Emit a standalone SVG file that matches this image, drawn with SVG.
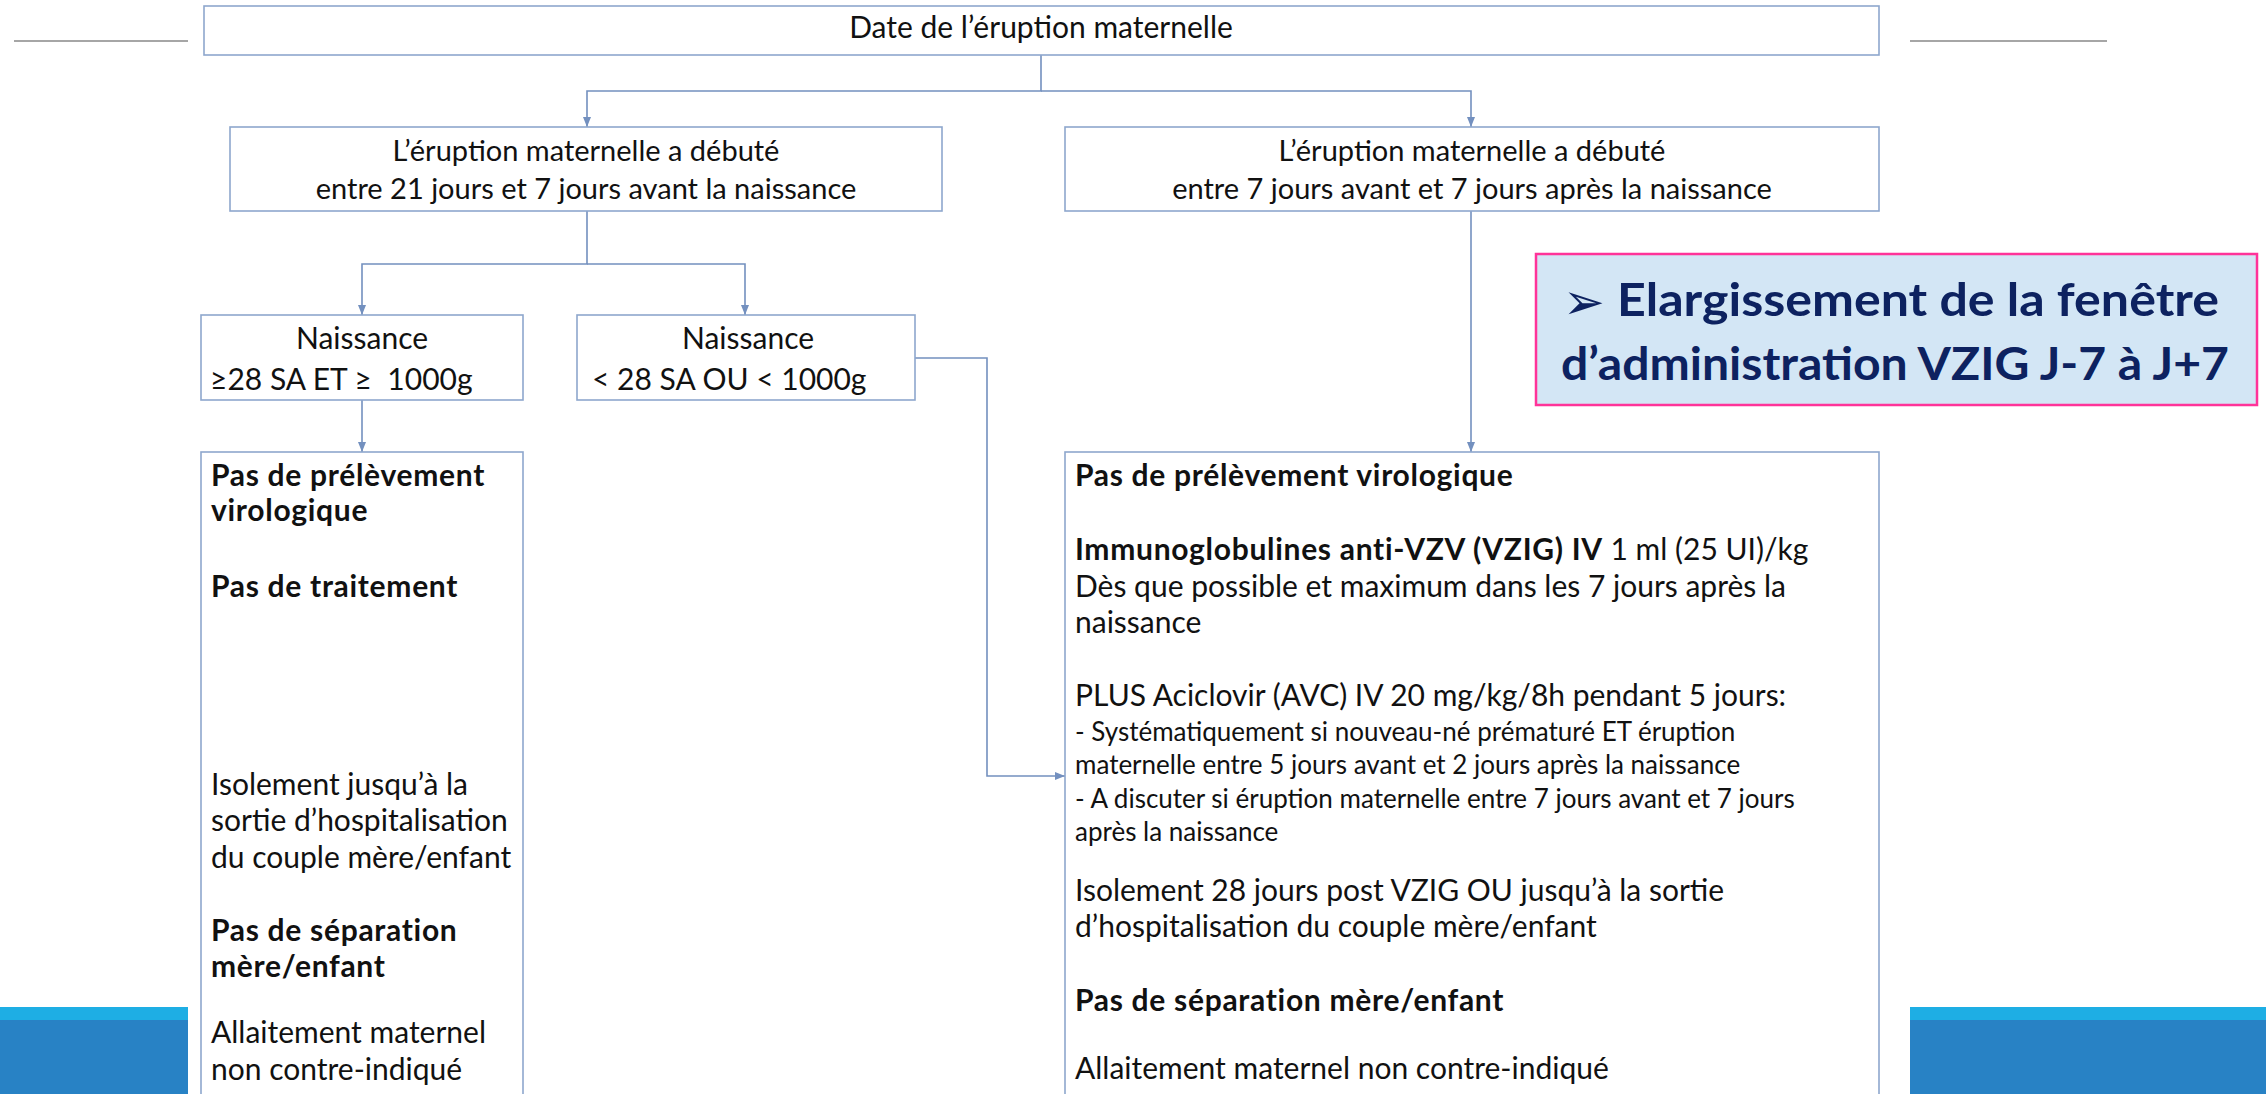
<svg xmlns="http://www.w3.org/2000/svg" width="2266" height="1094" viewBox="0 0 2266 1094">
<style>
.box{fill:#fff;stroke:#8EA7CD;stroke-width:1.6}
.con{fill:none;stroke:#7390BF;stroke-width:1.6}
.t{font-family:Lato,"Open Sans","Liberation Sans",sans-serif;font-size:30px;fill:#111}
.m{font-size:29px}
.s{font-family:Lato,"Open Sans","Liberation Sans",sans-serif;font-size:26px;fill:#111}
.b{font-weight:bold;letter-spacing:0.7px}
.c{text-anchor:middle}
.hl{font-family:Lato,"Open Sans","Liberation Sans",sans-serif;font-size:46px;font-weight:bold;fill:#0D2260}
</style>
<defs>
<marker id="arr" markerUnits="userSpaceOnUse" markerWidth="10" markerHeight="10" refX="10" refY="5" orient="auto">
<path d="M0,1 L10,5 L0,9 z" fill="#7390BF"/>
</marker>
</defs>
<rect width="2266" height="1094" fill="#fff"/>
<g id="decor">
<line x1="14" y1="41" x2="188" y2="41" stroke="#A6A6A6" stroke-width="2"/>
<line x1="1910" y1="41" x2="2107" y2="41" stroke="#A6A6A6" stroke-width="2"/>
<rect x="0" y="1007" width="188" height="87" fill="#2882C5"/>
<rect x="0" y="1007" width="188" height="13" fill="#1EAEE4"/>
<rect x="1910" y="1007" width="356" height="87" fill="#2882C5"/>
<rect x="1910" y="1007" width="356" height="13" fill="#1EAEE4"/>
</g>
<g id="connectors">
<path class="con" d="M1041,55 V91 H587 V127" marker-end="url(#arr)"/>
<path class="con" d="M1041,91 H1471 V127" marker-end="url(#arr)"/>
<path class="con" d="M587,211 V264 H362 V315" marker-end="url(#arr)"/>
<path class="con" d="M587,264 H745 V315" marker-end="url(#arr)"/>
<path class="con" d="M362,400 V452" marker-end="url(#arr)"/>
<path class="con" d="M1471,211 V452" marker-end="url(#arr)"/>
<path class="con" d="M915,358 H987 V776 H1065" marker-end="url(#arr)"/>
</g>
<g id="n-date">
<rect class="box" x="204" y="6" width="1675" height="49"/>
<text class="t c" x="1041" y="38">Date de l’éruption maternelle</text>
</g>
<g id="n-eruption-21-7">
<rect class="box" x="230" y="127" width="712" height="84"/>
<text class="t m c" x="586" y="161">L’éruption maternelle a débuté</text>
<text class="t m c" x="586" y="199">entre 21 jours et 7 jours avant la naissance</text>
</g>
<g id="n-eruption-7-7">
<rect class="box" x="1065" y="127" width="814" height="84"/>
<text class="t m c" x="1472" y="161">L’éruption maternelle a débuté</text>
<text class="t m c" x="1472" y="199">entre 7 jours avant et 7 jours après la naissance</text>
</g>
<g id="n-naissance-sup28">
<rect class="box" x="201" y="315" width="322" height="85"/>
<text class="t c" x="362" y="349">Naissance</text>
<text class="t" x="210" y="390">≥28 SA ET ≥&#160; 1000g</text>
</g>
<g id="n-naissance-inf28">
<rect class="box" x="577" y="315" width="338" height="85"/>
<text class="t c" x="748" y="349">Naissance</text>
<text class="t" x="592" y="390">&lt; 28 SA OU &lt; 1000g</text>
</g>
<g id="n-highlight">
<rect x="1536" y="254" width="721" height="151" fill="#D3E6F5" stroke="#FF3399" stroke-width="2.5"/>
<text x="1563" y="319" font-family="'DejaVu Sans',sans-serif" font-size="50" fill="#0D2260">➢</text>
<text class="hl" x="1617" y="316" textLength="602" lengthAdjust="spacingAndGlyphs">Elargissement de la fenêtre</text>
<text class="hl" x="1561" y="380" textLength="668" lengthAdjust="spacingAndGlyphs">d’administration VZIG J-7 à J+7</text>
</g>
<g id="n-left-result">
<rect class="box" x="201" y="452" width="322" height="660"/>
<text class="t b" x="211" y="486">Pas de prélèvement</text>
<text class="t b" x="211" y="521">virologique</text>
<text class="t b" x="211" y="597">Pas de traitement</text>
<text class="t" x="211" y="795">Isolement jusqu’à la</text>
<text class="t" x="211" y="831">sortie d’hospitalisation</text>
<text class="t" x="211" y="868">du couple mère/enfant</text>
<text class="t b" x="211" y="941">Pas de séparation</text>
<text class="t b" x="211" y="977">mère/enfant</text>
<text class="t" x="211" y="1043">Allaitement maternel</text>
<text class="t" x="211" y="1080">non contre-indiqué</text>
</g>
<g id="n-right-result">
<rect class="box" x="1065" y="452" width="814" height="660"/>
<text class="t b" x="1075" y="486">Pas de prélèvement virologique</text>
<text class="t" x="1075" y="560"><tspan class="b">Immunoglobulines anti-VZV (VZIG) IV</tspan> 1 ml (25 UI)/kg</text>
<text class="t" x="1075" y="597">Dès que possible et maximum dans les 7 jours après la</text>
<text class="t" x="1075" y="633">naissance</text>
<text class="t" x="1075" y="706">PLUS Aciclovir (AVC) IV 20 mg/kg/8h pendant 5 jours:</text>
<text class="s" x="1075" y="741">- Systématiquement si nouveau-né prématuré ET éruption</text>
<text class="s" x="1075" y="774">maternelle entre 5 jours avant et 2 jours après la naissance</text>
<text class="s" x="1075" y="808">- A discuter si éruption maternelle entre 7 jours avant et 7 jours</text>
<text class="s" x="1075" y="841">après la naissance</text>
<text class="t" x="1075" y="901">Isolement 28 jours post VZIG OU jusqu’à la sortie</text>
<text class="t" x="1075" y="937">d’hospitalisation du couple mère/enfant</text>
<text class="t b" x="1075" y="1011">Pas de séparation mère/enfant</text>
<text class="t" x="1075" y="1079">Allaitement maternel non contre-indiqué</text>
</g>
</svg>
